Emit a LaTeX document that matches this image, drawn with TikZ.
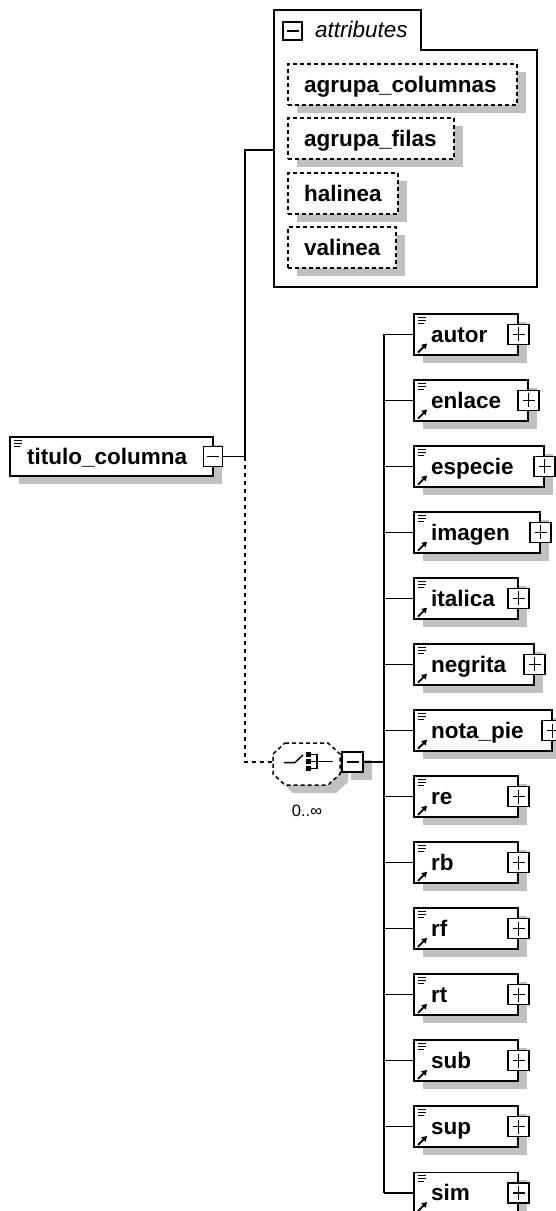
\documentclass[tikz,border=0pt]{standalone}
\usepackage{fontspec}
\setmainfont{Liberation Sans}
\usetikzlibrary{arrows.meta,calc,shadows}
\definecolor{shadowc}{HTML}{C0C0C0}
\tikzset{
  ln/.style={line width=1.5pt, draw=black},
  dln/.style={line width=1.5pt, draw=black, dash pattern=on 4pt off 4pt},
  sh/.style={general shadow={fill=shadowc, shadow xshift=9pt, shadow yshift=-8pt}},
  elbox/.style={draw=black, line width=1.5pt, fill=white, rectangle, inner sep=0pt, anchor=north west, minimum height=41pt, sh},
  atbox/.style={draw=black, line width=1.5pt, dash pattern=on 4pt off 3pt, fill=white, rectangle, inner sep=0pt, anchor=north west, minimum height=41pt, sh},
  pmbox/.style={draw=black, line width=1.5pt, fill=white, rectangle, inner sep=0pt, minimum width=21pt, minimum height=20pt},
  lbl/.style={anchor=base west, inner sep=0pt, font=\fontsize{22.5}{26}\selectfont\bfseries},
  itl/.style={anchor=base west, inner sep=0pt, font=\fontsize{22.5}{26}\selectfont\itshape},
  occl/.style={inner sep=0pt, font=\fontsize{16.5}{18}\selectfont},
}
\newcommand\xsdlines[1]{%
  \draw[line width=1pt] ($(#1.north west)+(5,4)$) -- ++(8,0);
  \draw[line width=1pt] ($(#1.north west)+(5,7)$) -- ++(8,0);
  \draw[line width=1pt] ($(#1.north west)+(5,10)$) -- ++(6,0);}
\newcommand\xsdarrow[1]{%
  \draw[line width=1.8pt, -{Triangle[length=5pt,width=6pt]}] ($(#1.south west)+(5,-3)$) -- ++(9,-9);}
\newcommand\xsdplus[1]{%
  \draw[ln] ($(#1.center)+(-6,0)$) -- ++(12,0);
  \draw[ln] ($(#1.center)+(0,-7)$) -- ++(0,14);}
\newcommand\xsdminus[1]{%
  \draw[ln] ($(#1.center)+(-6,0)$) -- ++(12,0);}
\begin{document}
\begin{tikzpicture}[x=1pt,y=-1pt]
\useasboundingbox (0,0) rectangle (556,1211);
% ---------- attributes container
\draw[ln, fill=white] (274,287) -- (274,10) -- (421,10) -- (421,50) -- (537,50) -- (537,287) -- cycle;
\node[pmbox, minimum width=19pt, minimum height=18pt] (atm) at (292.5,31) {};
\xsdminus{atm}
\node[itl] (attl) at (315,37) {attributes};
\coordinate (atw) at (274,150);
\foreach \n/\r/\t [count=\i] in {agrupa\_columnas/516/63, agrupa\_filas/453/117, halinea/397/172, valinea/395/226}{
  \pgfmathsetmacro\w{\r-287}
  \node[atbox, minimum width=\w pt] (a\i) at (287,\t) {};
  \node[lbl] (at\i) at (304,\t+29) {\n};
}
% ---------- titulo_columna
\node[elbox, minimum width=203pt, minimum height=39pt] (tc) at (9,436) {};
\xsdlines{tc}
\node[lbl] (tct) at (27,464) {titulo\_columna};
\node[pmbox, minimum width=19pt] (tcm) at (213,456.5) {};
\xsdminus{tcm}
% ---------- connectors from titulo
\coordinate (j1) at (245,150);
\coordinate (j2) at (245,456.5);
\coordinate (j3) at (245,762);
\coordinate (chw) at (273,762);
\draw[ln] (tcm.east) -- (j2) -- (j1) -- (atw);
\draw[dln] (j2) -- (j3) -- (chw);
% ---------- choice
\fill[shadowc] (293,751) -- (336,751) -- (348,762) -- (348,782) -- (336,793) -- (293,793) -- (281,782) -- (281,762) -- cycle;
\draw[line width=1.5pt, dash pattern=on 4pt off 3pt, fill=white] (285,743) -- (328,743) -- (340,754) -- (340,774) -- (328,785) -- (285,785) -- (273,774) -- (273,754) -- cycle;
\draw[line width=1.5pt] (284,762.5) -- (295,762.5) -- (303,755);
\fill (306,752) rectangle (311,757);
\fill (306,759) rectangle (311,764);
\fill (306,766) rectangle (311,771);
\draw[line width=1.5pt] (311,754.5) -- (317,754.5) -- (317,768.5) -- (311,768.5);
\draw[line width=1.5pt] (311,761.5) -- (333,761.5);
\node[pmbox, sh] (chm) at (352.5,762) {};
\xsdminus{chm}
\node[occl] (occ) at (307,811) {0..∞};
\coordinate (j4) at (384,762);
\draw[ln] (chm.east) -- (j4);
% ---------- elements
\foreach \n/\r [count=\i from 0] in {autor/517, enlace/527, especie/543, imagen/539, italica/517, negrita/533, nota\_pie/551, re/517, rb/517, rf/517, rt/517, sub/517, sup/517, sim/517}{
  \pgfmathsetmacro\cy{333.5+66.04*\i}
  \pgfmathsetmacro\w{\r-413}
  \node[elbox, minimum width=\w pt] (e\i) at (413,\cy-20.5) {};
  \xsdlines{e\i}
  \xsdarrow{e\i}
  \node[lbl] (et\i) at (431,\cy+8.5) {\n};
  \node[pmbox] (ep\i) at (e\i.east) {};
  \xsdplus{ep\i}
  \draw[ln] (e\i.west -| j4) -- (e\i.west);
}
\draw[ln] (e0.west -| j4) -- (e13.west -| j4);
\end{tikzpicture}
\end{document}
